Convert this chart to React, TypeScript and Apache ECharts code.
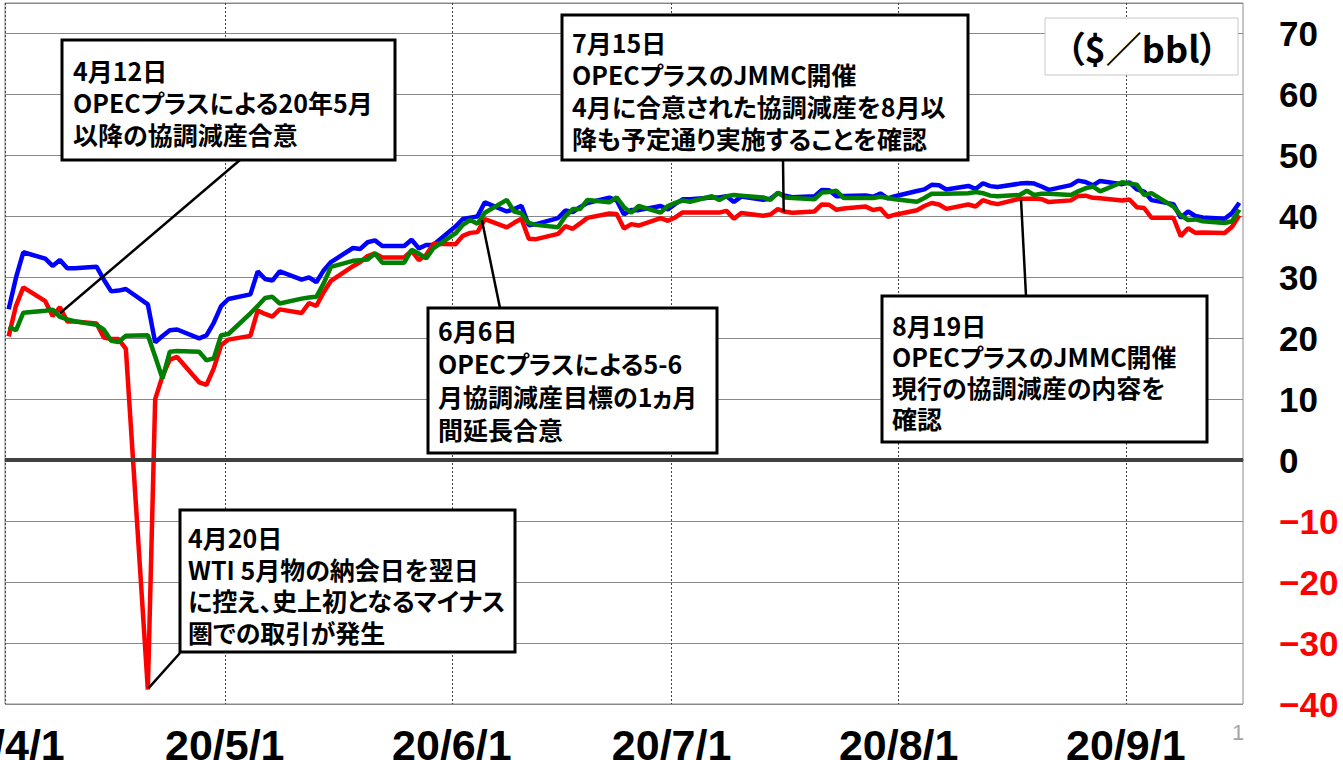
import { useEffect, useRef } from 'react';
import * as echarts from 'echarts';

// ---- data ----
const tradeDays = [
  '04-01', '04-02', '04-03',
  '04-06', '04-07', '04-08', '04-09', '04-10',
  '04-13', '04-14', '04-15', '04-16', '04-17',
  '04-20', '04-21', '04-22', '04-23', '04-24',
  '04-27', '04-28', '04-29', '04-30', '05-01',
  '05-04', '05-05', '05-06', '05-07', '05-08',
  '05-11', '05-12', '05-13', '05-14', '05-15',
  '05-18', '05-19', '05-20', '05-21', '05-22',
  '05-25', '05-26', '05-27', '05-28', '05-29',
  '06-01', '06-02', '06-03', '06-04', '06-05',
  '06-08', '06-09', '06-10', '06-11', '06-12',
  '06-15', '06-16', '06-17', '06-18', '06-19',
  '06-22', '06-23', '06-24', '06-25', '06-26',
  '06-29', '06-30', '07-01', '07-02', '07-03',
  '07-06', '07-07', '07-08', '07-09', '07-10',
  '07-13', '07-14', '07-15', '07-16', '07-17',
  '07-20', '07-21', '07-22', '07-23', '07-24',
  '07-27', '07-28', '07-29', '07-30', '07-31',
  '08-03', '08-04', '08-05', '08-06', '08-07',
  '08-10', '08-11', '08-12', '08-13', '08-14',
  '08-17', '08-18', '08-19', '08-20', '08-21',
  '08-24', '08-25', '08-26', '08-27', '08-28',
  '08-31', '09-01', '09-02', '09-03', '09-04',
  '09-07', '09-08', '09-09', '09-10', '09-11',
  '09-14', '09-15', '09-16',
];

// blue
const brent = [
  24.74, 29.94, 34.11,
  33.05, 31.87, 32.84, 31.48, 31.48,
  31.74, 29.60, 27.69, 27.82, 28.08,
  25.57, 19.33, 20.37, 21.33, 21.44,
  19.99, 20.46, 22.54, 25.27, 26.44,
  27.20, 30.97, 29.72, 29.46, 30.97,
  29.63, 29.98, 29.19, 31.13, 32.50,
  34.81, 34.65, 35.75, 36.06, 35.13,
  35.13, 36.17, 34.74, 35.29, 35.33,
  38.32, 39.57, 39.79, 39.99, 42.30,
  40.80, 41.18, 41.73, 38.55, 38.73,
  39.72, 40.96, 40.71, 41.51, 42.19,
  43.08, 42.63, 40.31, 41.05, 41.02,
  41.71, 41.15, 42.03, 42.80, 42.80,
  43.10, 43.08, 43.29, 42.35, 43.24,
  42.72, 42.90, 43.79, 43.37, 43.14,
  43.28, 44.32, 44.29, 43.31, 43.34,
  43.41, 43.22, 43.75, 42.94, 43.30,
  44.15, 44.43, 45.17, 45.09, 44.40,
  44.99, 44.50, 45.43, 44.96, 44.80,
  45.37, 45.46, 45.37, 44.90, 44.35,
  45.13, 45.86, 45.64, 45.09, 45.81,
  45.28, 45.58, 44.43, 44.07, 42.66,
  42.01, 39.78, 40.79, 40.06, 39.83,
  39.61, 40.53, 42.22,
];

// red
const wti = [
  20.31, 25.32, 28.34,
  26.08, 23.63, 25.09, 22.76, 22.76,
  22.41, 20.11, 19.87, 19.87, 18.27,
  -37.63, 10.01, 13.78, 16.50, 16.94,
  12.78, 12.34, 15.06, 18.84, 19.78,
  20.39, 24.56, 23.99, 23.55, 24.74,
  24.14, 25.78, 25.29, 27.56, 29.43,
  31.82, 32.50, 33.49, 33.92, 33.25,
  33.25, 34.35, 32.81, 33.71, 35.49,
  35.44, 36.81, 37.29, 37.41, 39.55,
  38.19, 38.94, 39.60, 36.34, 36.26,
  37.12, 38.38, 37.96, 38.84, 39.75,
  40.46, 40.37, 38.01, 38.72, 38.49,
  39.70, 39.27, 39.82, 40.65, 40.65,
  40.63, 40.62, 40.90, 39.62, 40.55,
  40.10, 40.29, 41.20, 40.75, 40.59,
  40.81, 41.96, 41.90, 41.07, 41.29,
  41.60, 41.04, 41.27, 39.92, 40.27,
  41.01, 41.70, 42.19, 41.95, 41.22,
  41.94, 41.61, 42.67, 42.24, 42.01,
  42.89, 42.89, 42.93, 42.82, 42.34,
  42.62, 43.35, 43.39, 43.04, 42.97,
  42.61, 42.76, 41.51, 41.37, 39.77,
  39.77, 36.76, 38.05, 37.30, 37.33,
  37.26, 38.28, 40.16,
];

// green
const dubai = [
  21.9, 21.3, 24.2,
  24.5, 24.7, 23.5, 23.1, 22.8,
  22.2, 21.4, 19.6, 19.4, 20.4,
  20.5, 17.0, 13.4, 17.8, 17.9,
  17.8, 16.4, 16.7, 20.5, 20.7,
  24.1, 25.3, 26.6, 26.8, 25.7,
  26.5, 26.7, 26.8, 29.0, 31.7,
  32.7, 32.8, 32.9, 33.9, 32.4,
  32.4, 34.5, 33.9, 33.1, 34.8,
  37.2, 38.6, 39.4, 38.8, 40.6,
  42.7, 40.8, 40.5, 38.9, 38.6,
  38.2, 40.0, 41.2, 41.2, 42.7,
  42.3, 43.1, 41.5, 40.6, 41.7,
  40.6, 41.7, 42.2, 42.6, 42.4,
  43.3, 42.7, 43.3, 43.5, 43.4,
  43.1, 42.7, 43.9, 43.1, 43.0,
  42.8, 43.9, 44.0, 44.2, 43.0,
  43.0, 43.0, 43.2, 43.0, 42.8,
  42.4, 43.0, 43.7, 43.7, 43.7,
  43.8, 44.0, 43.8, 43.4, 43.3,
  43.5, 44.2, 43.5, 43.7, 43.7,
  43.5, 44.1, 44.6, 44.9, 44.1,
  45.6, 45.4, 45.2, 43.5, 43.8,
  41.6, 40.2, 39.4, 39.5, 39.2,
  38.9, 39.2, 41.1,
];

const monthStarts = ['04-01', '05-01', '06-01', '07-01', '08-01', '09-01'];
const monthLabels = ['20/4/1', '20/5/1', '20/6/1', '20/7/1', '20/8/1', '20/9/1'];
const axisEndDay = '09-17';

const annotationTexts = [
  '4月12日\nOPECプラスによる20年5月\n以降の協調減産合意',
  '7月15日\nOPECプラスのJMMC開催\n4月に合意された協調減産を8月以\n降も予定通り実施することを確認',
  '6月6日\nOPECプラスによる5-6\n月協調減産目標の1ヵ月\n間延長合意',
  '8月19日\nOPECプラスのJMMC開催\n現行の協調減産の内容を\n確認',
  '4月20日\nWTI 5月物の納会日を翌日\nに控え、史上初となるマイナス\n圏での取引が発生',
];
// anchor points of leader lines, in data units [day offset, $/bbl]
const annotationAnchors = [
  [7.5, 24.1],
  [106.3, 40.7],
  [65.1, 39.4],
  [138.7, 42.7],
  [19.6, -37.4],
];
const unitText = '（$／bbl）';
const pageNumber = '1';

// ---- layout (pixels) ----
const annotationLayout = [
  { box: [62, 40, 333, 120], text: [73, 54], lh: 32, from: [240, 160] },
  { box: [562, 15, 406, 145], text: [572, 26], lh: 32, from: [783, 160] },
  { box: [428, 308, 289, 145], text: [438, 313], lh: 33, from: [500, 308] },
  { box: [882, 296, 325, 146], text: [892, 309], lh: 31, from: [1026, 296] },
  { box: [180, 510, 335, 142], text: [188, 521], lh: 31.7, from: [180, 653] },
];

const DAY = 86400000;
const dayOf = (md: string) =>
  (Date.parse('2020-' + md + 'T00:00:00Z') - Date.parse('2020-04-01T00:00:00Z')) / DAY;

const xs = tradeDays.map((d) => dayOf(d) + 0.5);
const monthDays = monthStarts.map(dayOf);

export default function App() {
  const ref = useRef<HTMLDivElement>(null);
  useEffect(() => {
    document.body.style.margin = '0';
    const chart = echarts.init(ref.current as HTMLDivElement, null, { renderer: 'svg' });
    const numFont = '"Liberation Sans", Arial, sans-serif';
    const mk = (vals: number[]) => vals.map((v, i) => [xs[i], v]);
    const lineSeries = (name: string, vals: number[], color: string, extra: any = {}) => ({
      name,
      type: 'line',
      data: mk(vals),
      symbol: 'none',
      showSymbol: false,
      lineStyle: { color, width: 4.5 },
      itemStyle: { color },
      ...extra,
    });
    chart.setOption({
      animation: false,
      grid: {
        left: 5,
        right: 100,
        top: 3,
        bottom: 56,
        containLabel: false,
        outerBoundsMode: 'none',
        show: true,
        borderColor: '#8c8c8c',
        borderWidth: 1,
      },
      xAxis: {
        type: 'value',
        min: 0,
        max: dayOf(axisEndDay),
        axisLine: { show: true, lineStyle: { color: '#555', width: 1.5 } },
        axisTick: { show: false, customValues: monthDays },
        axisLabel: {
          customValues: monthDays,
          formatter: (v: number) => {
            const i = monthDays.findIndex((m) => Math.abs(m - v) < 0.01);
            return i >= 0 ? monthLabels[i] : '';
          },
          margin: 19,
          color: '#000',
          fontSize: 43,
          fontWeight: 'bold',
          fontFamily: numFont,
        },
        splitLine: { show: true, lineStyle: { color: '#404040', width: 1, type: [2, 2] } },
      },
      yAxis: {
        type: 'value',
        position: 'right',
        min: -40,
        max: 75,
        interval: 10,
        axisLine: { show: false },
        axisTick: { show: false },
        splitLine: { show: true, lineStyle: { color: '#888', width: 1 } },
        axisLabel: {
          margin: 36,
          formatter: (v: number) =>
            v > 70 ? '' : v < 0 ? `{n|−${Math.abs(v)}}` : `{p|${v}}`,
          rich: {
            n: { color: '#ff0000', fontSize: 35, fontWeight: 'bold', fontFamily: numFont },
            p: { color: '#000000', fontSize: 35, fontWeight: 'bold', fontFamily: numFont },
          },
        },
      },
      series: [
        lineSeries('Brent', brent, '#0000ff'),
        lineSeries('WTI', wti, '#ff0000'),
        lineSeries('Dubai', dubai, '#008000', {
          markLine: {
            silent: true,
            symbol: 'none',
            label: { show: false },
            lineStyle: { color: '#404040', width: 4, type: 'solid' },
            data: [{ yAxis: 0 }],
          },
        }),
      ],
    });

    const graphics: any[] = [];
    annotationTexts.forEach((t, i) => {
      const L = annotationLayout[i];
      const a = chart.convertToPixel({ gridIndex: 0 }, annotationAnchors[i]) as number[];
      graphics.push({
        type: 'line',
        z: 99,
        shape: { x1: L.from[0], y1: L.from[1], x2: a[0], y2: a[1] },
        style: { stroke: '#000', lineWidth: 2.5 },
      });
      graphics.push({
        type: 'rect',
        z: 100,
        shape: { x: L.box[0], y: L.box[1], width: L.box[2], height: L.box[3] },
        style: { fill: '#fff', stroke: '#000', lineWidth: 3 },
      });
      graphics.push({
        type: 'text',
        z: 101,
        x: L.text[0],
        y: L.text[1],
        style: {
          text: t,
          fill: '#000',
          fontSize: 25,
          fontWeight: 'bold',
          fontFamily: '"Noto Sans CJK JP", sans-serif',
          lineHeight: L.lh,
          align: 'left',
          verticalAlign: 'top',
        },
      });
    });
    graphics.push({
      type: 'rect',
      z: 100,
      shape: { x: 1045, y: 18, width: 193, height: 57 },
      style: { fill: '#fff', stroke: '#c8c8c8', lineWidth: 1 },
    });
    graphics.push({
      type: 'text',
      z: 101,
      x: 1142,
      y: 47,
      style: {
        text: unitText,
        fill: '#000',
        fontSize: 36,
        fontWeight: 'bold',
        fontFamily: '"Noto Sans CJK JP", sans-serif',
        align: 'center',
        verticalAlign: 'middle',
      },
    });
    graphics.push({
      type: 'text',
      z: 101,
      x: 1238,
      y: 732,
      style: {
        text: pageNumber,
        fill: '#a6a6a6',
        fontSize: 22,
        fontFamily: numFont,
        align: 'center',
        verticalAlign: 'middle',
      },
    });
    chart.setOption({ graphic: graphics });
    return () => chart.dispose();
  }, []);
  return (
    <div
      ref={ref}
      style={{ width: 1343, height: 760, fontFeatureSettings: '"palt"' }}
    />
  );
}
